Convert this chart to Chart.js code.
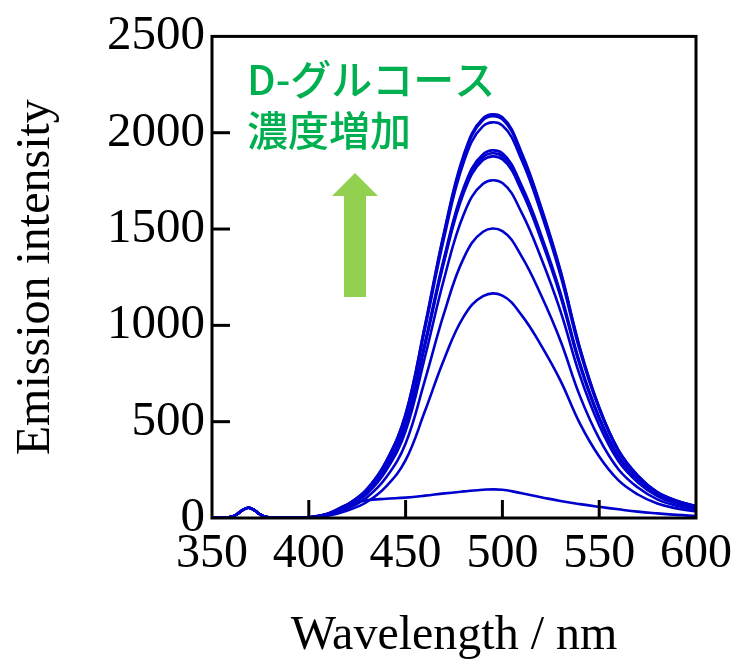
<!DOCTYPE html>
<html>
<head>
<meta charset="utf-8">
<script src="https://cdn.jsdelivr.net/npm/chart.js@4.4.1/dist/chart.umd.min.js"></script>
<style>
  html, body { margin: 0; padding: 0; background: #fff; }
  #wrap { width: 740px; height: 660px; }
</style>
</head>
<body>
<div id="wrap"><canvas id="c" width="740" height="660"></canvas></div>
<script>
// wavelengths (nm): small scatter bump region, then the emission band
const uvWaves = [350, 356, 360, 363, 366, 369, 372, 375, 378, 382, 390];
const visWaves = [400, 410, 420, 430, 440, 450, 460, 470, 480, 490, 500, 510, 520, 530, 540, 550, 560, 570, 580, 590, 600];
const uvBump = [2, 2, 6, 20, 42, 53, 40, 18, 5, 2, 1];

// emission intensity per D-glucose concentration (low -> high)
const s0 = [3, 24, 70, 92, 100, 106, 116, 128, 138, 147, 147, 128, 108, 88, 72, 58, 45, 33, 24, 16, 10];
const s1 = [2, 12, 39, 83, 164, 300, 555, 827, 1045, 1152, 1154, 1052, 896, 713, 491, 319, 195, 122, 75, 50, 34];
const s2 = [3, 16, 50, 107, 211, 387, 716, 1067, 1349, 1486, 1489, 1357, 1156, 920, 634, 412, 252, 158, 97, 64, 44];
const s3 = [3, 18, 59, 125, 247, 451, 836, 1246, 1576, 1735, 1739, 1584, 1350, 1074, 740, 481, 294, 184, 113, 75, 52];
const s4 = [4, 20, 63, 134, 264, 483, 895, 1334, 1687, 1858, 1862, 1696, 1445, 1150, 792, 515, 315, 197, 121, 81, 55];
const s5 = [4, 20, 63, 135, 266, 488, 903, 1345, 1702, 1874, 1878, 1711, 1458, 1160, 799, 519, 318, 199, 122, 81, 56];
const s6 = [4, 20, 64, 137, 268, 491, 910, 1356, 1715, 1889, 1893, 1724, 1470, 1169, 805, 523, 320, 200, 123, 82, 56];
const s7 = [4, 22, 69, 147, 289, 529, 980, 1460, 1846, 2034, 2038, 1857, 1583, 1259, 867, 564, 345, 216, 132, 88, 61];
const s8 = [4, 22, 70, 149, 294, 537, 995, 1483, 1875, 2066, 2070, 1886, 1607, 1279, 881, 572, 350, 219, 134, 90, 62];
const s9 = [4, 22, 70, 150, 295, 540, 1000, 1490, 1885, 2076, 2080, 1895, 1615, 1285, 885, 575, 352, 220, 135, 90, 62];

const xTicks = [350, 400, 450, 500, 550, 600];
const yTicks = [0, 500, 1000, 1500, 2000, 2500];

const waves = uvWaves.concat(visWaves);
const series = [s0, s1, s2, s3, s4, s5, s6, s7, s8, s9];

const serif = "'Liberation Serif', 'Times New Roman', serif";
const jp = "'Noto Sans CJK JP', 'Noto Sans', sans-serif";

const datasets = series.map((s) => ({
  data: waves.map((w, i) => ({ x: w, y: uvBump.concat(s)[i] })),
  borderColor: "#0000cc",
  borderWidth: 2.6,
  pointRadius: 0,
  fill: false,
  tension: 0.4,
}));

// frame, inward ticks, note text + arrow
const deco = {
  id: "deco",
  afterDatasetsDraw(chart) {
    const { ctx, chartArea: a, scales } = chart;
    const x = scales.x, y = scales.y;
    ctx.save();
    ctx.strokeStyle = "#000";
    ctx.lineWidth = 3;
    ctx.lineCap = "butt";
    xTicks.slice(1, -1).forEach((v) => {
      const px = x.getPixelForValue(v);
      ctx.beginPath();
      ctx.moveTo(px, a.bottom);
      ctx.lineTo(px, a.bottom - 18);
      ctx.stroke();
    });
    yTicks.slice(1, -1).forEach((v) => {
      const py = y.getPixelForValue(v);
      ctx.beginPath();
      ctx.moveTo(a.left, py);
      ctx.lineTo(a.left + 18, py);
      ctx.stroke();
    });
    ctx.strokeRect(a.left, a.top, a.right - a.left, a.bottom - a.top);

    // annotation
    ctx.fillStyle = "#00b050";
    ctx.font = "500 41px " + jp;
    ctx.textBaseline = "middle";
    ctx.textAlign = "left";
    ctx.fillText("D-グルコース", a.left + 35, 79);
    ctx.fillText("濃度増加", a.left + 35, 130);

    const cx = a.left + 143;
    ctx.fillStyle = "#92d050";
    ctx.beginPath();
    ctx.moveTo(cx, 173);
    ctx.lineTo(cx + 23, 196);
    ctx.lineTo(cx + 11, 196);
    ctx.lineTo(cx + 11, 297);
    ctx.lineTo(cx - 11, 297);
    ctx.lineTo(cx - 11, 196);
    ctx.lineTo(cx - 23, 196);
    ctx.closePath();
    ctx.fill();
    ctx.restore();
  },
};

new Chart(document.getElementById("c"), {
  type: "line",
  data: { datasets },
  plugins: [deco],
  options: {
    responsive: false,
    animation: false,
    layout: { padding: { top: 33, right: 40, left: 0, bottom: 0 } },
    plugins: { legend: { display: false }, tooltip: { enabled: false } },
    scales: {
      x: {
        type: "linear",
        min: 350,
        max: 600,
        afterFit: (s) => (s.height = 142),
        afterBuildTicks: (s) => (s.ticks = xTicks.map((v) => ({ value: v }))),
        grid: { display: false, drawTicks: false },
        border: { display: false },
        ticks: { color: "#000", padding: 8, maxRotation: 0, callback: (v) => String(v), font: { family: serif, size: 48 } },
        title: {
          display: true,
          text: "Wavelength / nm",
          color: "#000",
          font: { family: serif, size: 48, lineHeight: 1.0 },
          padding: { top: 0, bottom: 0 },
        },
      },
      y: {
        min: 0,
        max: 2500,
        afterFit: (s) => (s.width = 212),
        afterBuildTicks: (s) => (s.ticks = yTicks.map((v) => ({ value: v }))),
        grid: { display: false, drawTicks: false },
        border: { display: false },
        ticks: { color: "#000", padding: 7, callback: (v) => String(v), font: { family: serif, size: 49 } },
        title: {
          display: true,
          text: "Emission intensity",
          color: "#000",
          font: { family: serif, size: 48, lineHeight: 1.2 },
          padding: { top: 8, bottom: 0 },
        },
      },
    },
  },
});
</script>
</body>
</html>
